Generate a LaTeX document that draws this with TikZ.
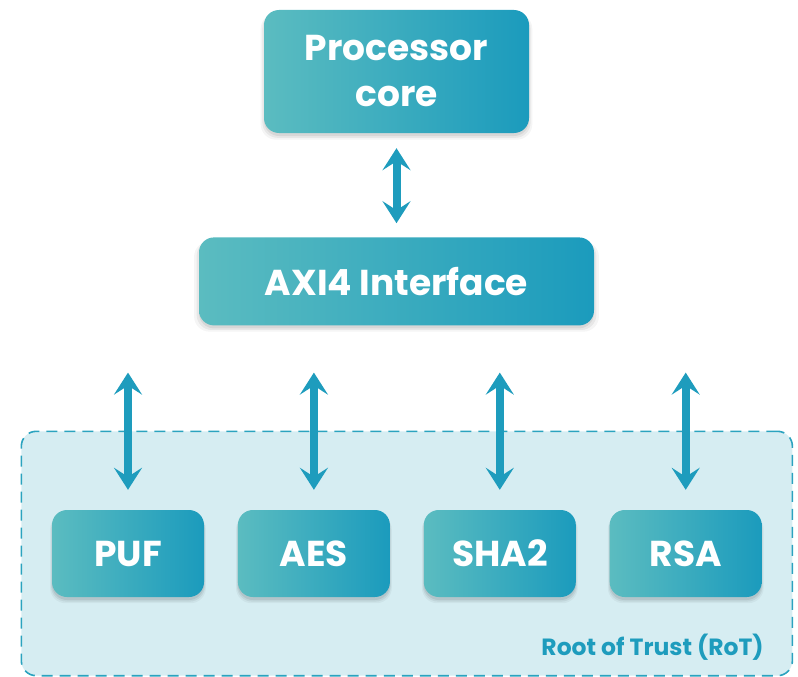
\documentclass[tikz,border=0pt]{standalone}
\usepackage{fontspec}
\setmainfont{Poppins}
\usepackage{xcolor}
\usetikzlibrary{positioning,arrows.meta,fit,backgrounds,shadows}

\definecolor{tealL}{HTML}{5BBCC0}
\definecolor{tealR}{HTML}{1B9BBD}
\definecolor{arrowc}{HTML}{1E9CBD}
\definecolor{rotfill}{HTML}{D6EDF2}
\definecolor{rotline}{HTML}{2BA3BF}

\begin{document}
\begin{tikzpicture}[x=1pt,y=1pt,
        node distance=33.5pt,
        softshadow/.style={general shadow={shadow xshift=0pt,shadow yshift=-5pt,shadow scale=1.025,fill=black,opacity=0.04},
            general shadow={shadow xshift=0pt,shadow yshift=-4pt,shadow scale=1.012,fill=black,opacity=0.06},
            general shadow={shadow xshift=0pt,shadow yshift=-3pt,fill=black,opacity=0.07}},
        block/.style={rectangle,rounded corners=15pt,left color=tealL,right color=tealR,text=white,align=center,
            font=\fontsize{36}{46}\selectfont\bfseries,softshadow},
        modbox/.style={block,minimum width=152pt,minimum height=87pt},
        link/.style={{Stealth[length=22pt,width=28pt,inset=9pt]}-{Stealth[length=22pt,width=28pt,inset=9pt]},line width=8pt,arrowc}]
        \useasboundingbox (0,0) rectangle (798,-677);
        \node[block,minimum width=265pt,minimum height=123pt] (proc) at (396.5,-71.5) {Processor\\core};
        \node[block,minimum width=395pt,minimum height=88pt,below=104pt of proc] (axi) {AXI4 Interface};
        \node[modbox] (puf) at (128,-553.5) {PUF};
        \node[modbox,right=of puf] (aes) {AES};
        \node[modbox,right=of aes] (sha) {SHA2};
        \node[modbox,right=of sha] (rsa) {RSA};
        \begin{scope}[on background layer]
        \node[draw=rotline,fill=rotfill,line width=1.6pt,dash pattern=on 11pt off 7pt,rounded corners=15pt,
            inner xsep=30.5pt,inner ysep=78.5pt,fit=(puf)(rsa)] (rot) {};
        \end{scope}
        \node[anchor=base east,text=arrowc,font=\fontsize{23.5}{28}\selectfont\bfseries] (rotlabel)
            at ([xshift=-26pt,yshift=21pt]rot.south east) {Root of Trust (RoT)};
        \draw[link,shorten <=15pt,shorten >=14pt] (proc) -- (axi);
        \foreach \m in {puf,aes,sha,rsa}
            \draw[link,shorten <=47pt,shorten >=20pt] (axi.south -| \m.north) -- (\m.north);
    \end{tikzpicture}
\end{document}
